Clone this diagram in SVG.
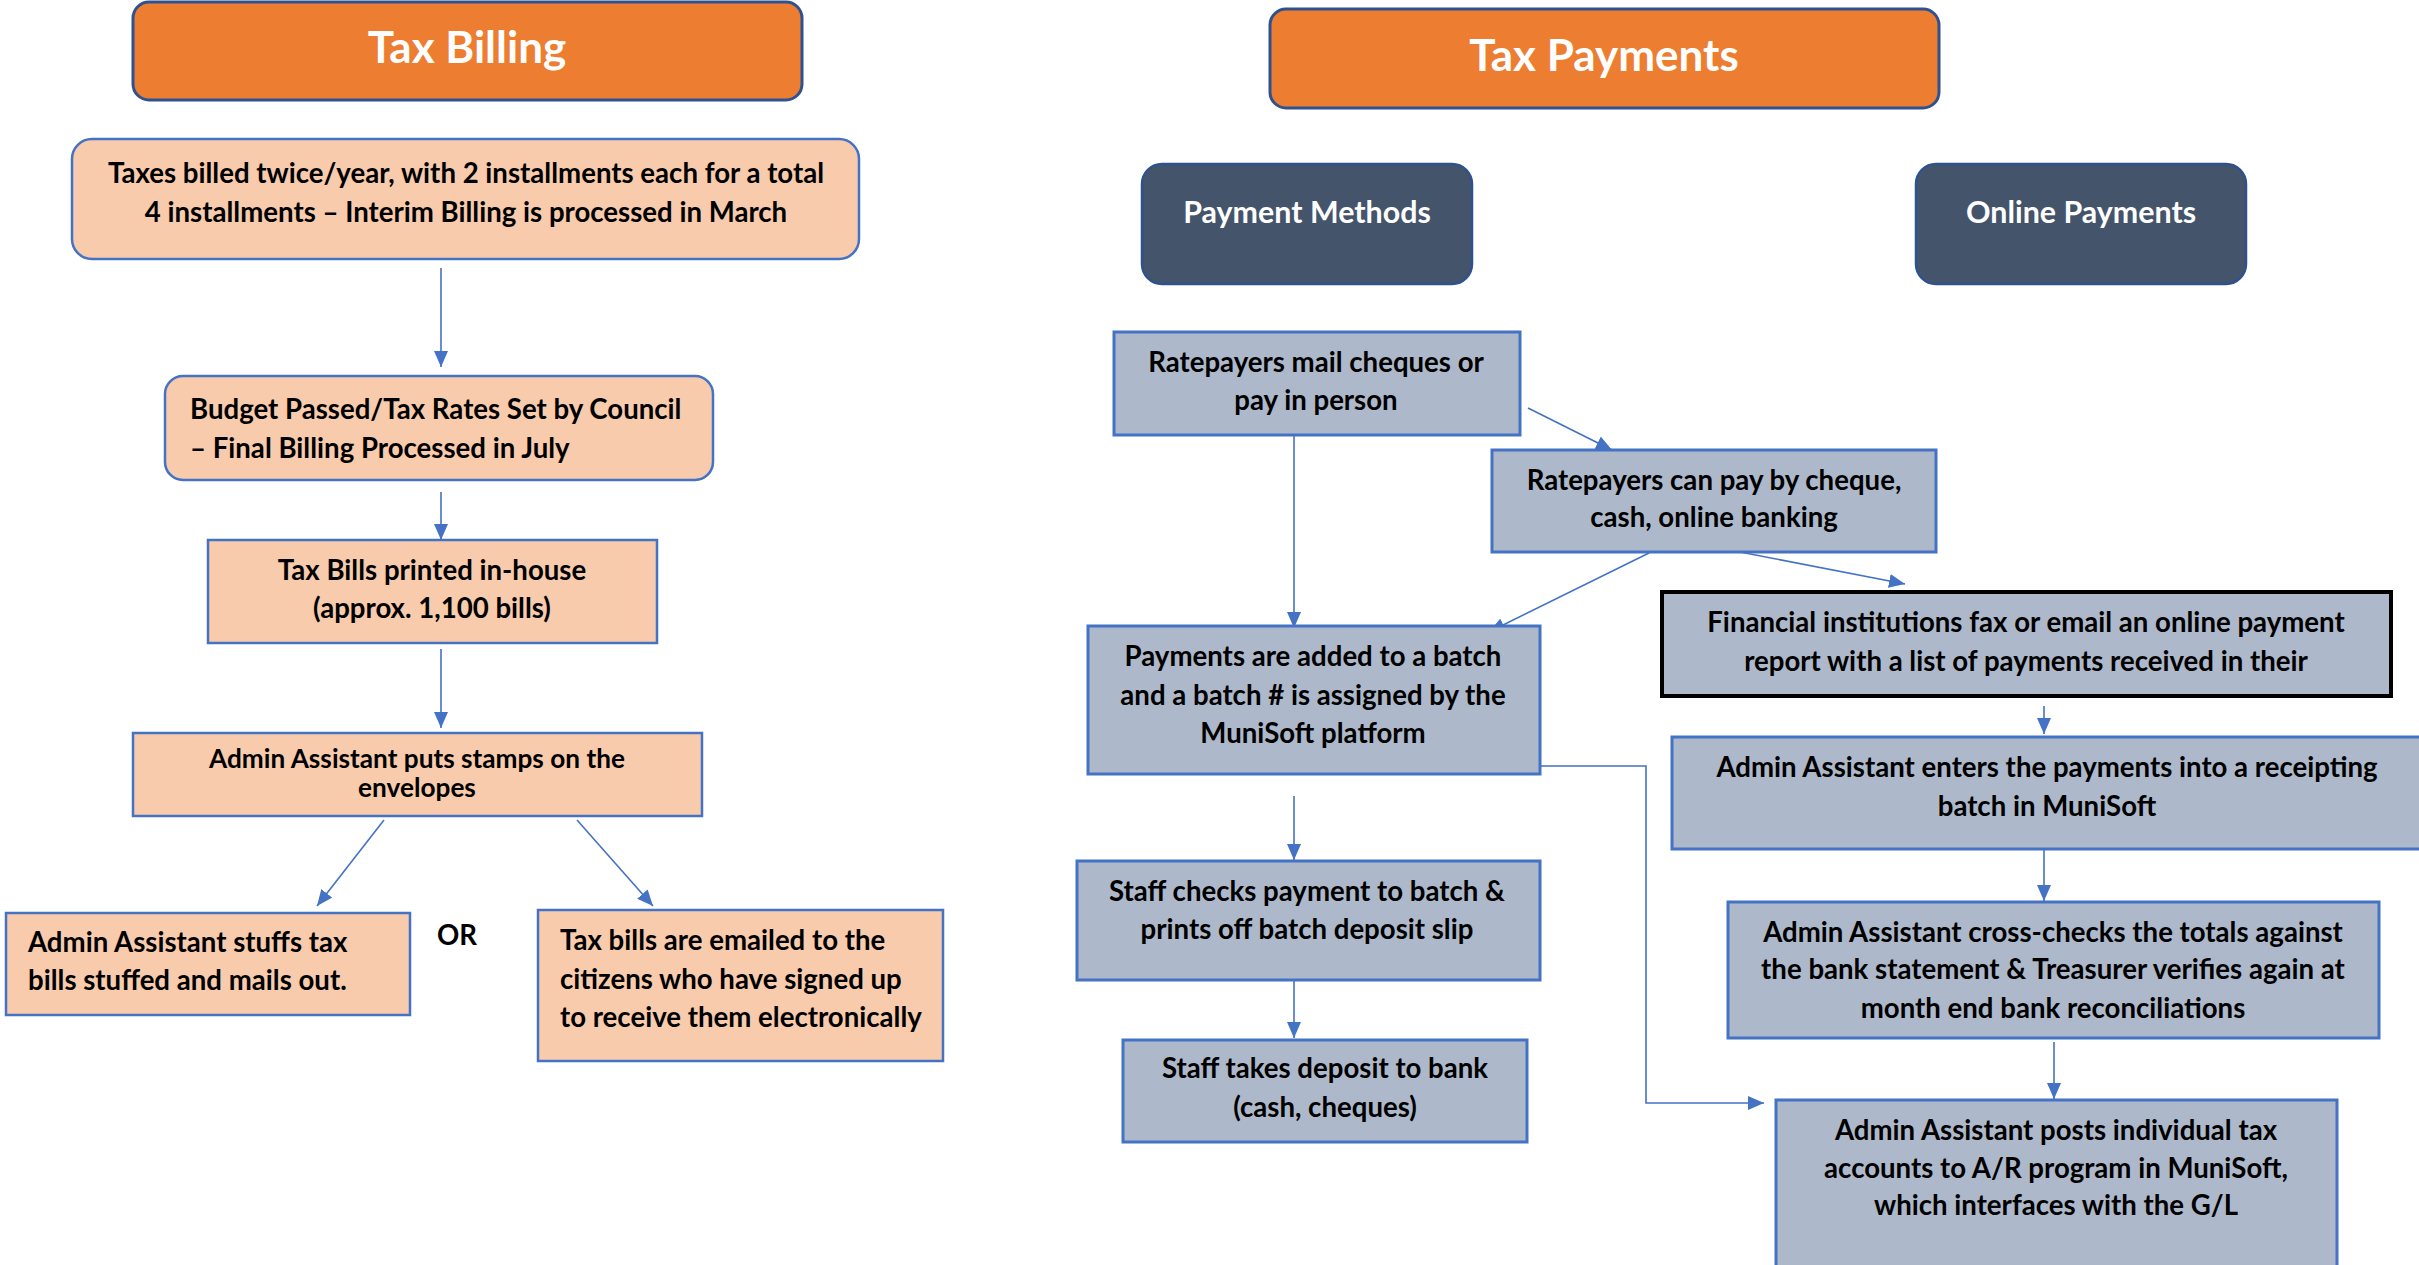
<svg xmlns="http://www.w3.org/2000/svg" width="2419" height="1265" viewBox="0 0 2419 1265">
<style>
.hdr{fill:#ED7D31;stroke:#2F528F;stroke-width:3}
.peach{fill:#F8CBAD;stroke:#4472C4;stroke-width:2.5}
.slate{fill:#ADB9CA;stroke:#4472C4;stroke-width:3}
.dark{fill:#44546A;stroke:#2F528F;stroke-width:2.5}
.blk{fill:#ADB9CA;stroke:#000;stroke-width:4}
text{font-family:Lato,"Liberation Sans",sans-serif;font-weight:bold;fill:#000;font-size:27.6px}
.c{text-anchor:middle}
.ht{fill:#fff;font-size:44px}
.st{fill:#fff;font-size:30.4px}
.sm{font-size:26.2px}
.con{fill:none;stroke:#4472C4;stroke-width:1.6}
</style>
<defs>
<marker id="ah" markerUnits="userSpaceOnUse" markerWidth="16" markerHeight="14" viewBox="0 0 16 14" refX="16" refY="7" orient="auto">
<path d="M0,0 L16,7 L0,14 z" fill="#4472C4"/>
</marker>
</defs>

<g id="connectors">
<line class="con" x1="441" y1="268" x2="441" y2="367" marker-end="url(#ah)"/>
<line class="con" x1="441" y1="492" x2="441" y2="540" marker-end="url(#ah)"/>
<line class="con" x1="441" y1="649" x2="441" y2="728" marker-end="url(#ah)"/>
<line class="con" x1="384" y1="820" x2="317" y2="906" marker-end="url(#ah)"/>
<line class="con" x1="577" y1="820" x2="653" y2="906" marker-end="url(#ah)"/>
<line class="con" x1="1294" y1="435" x2="1294" y2="628" marker-end="url(#ah)"/>
<line class="con" x1="1528" y1="408" x2="1612" y2="450" marker-end="url(#ah)"/>
<line class="con" x1="1649" y1="553" x2="1489" y2="632" marker-end="url(#ah)"/>
<line class="con" x1="1740" y1="552" x2="1905" y2="584" marker-end="url(#ah)"/>
<line class="con" x1="2044" y1="706" x2="2044" y2="734" marker-end="url(#ah)"/>
<polyline class="con" points="1541,766 1646,766 1646,1103 1764,1103" marker-end="url(#ah)"/>
<line class="con" x1="1294" y1="796" x2="1294" y2="860" marker-end="url(#ah)"/>
<line class="con" x1="1294" y1="980" x2="1294" y2="1038" marker-end="url(#ah)"/>
<line class="con" x1="2044" y1="850" x2="2044" y2="901" marker-end="url(#ah)"/>
<line class="con" x1="2054" y1="1042" x2="2054" y2="1099" marker-end="url(#ah)"/>
</g>

<g id="tax-billing">
<rect class="hdr" x="133" y="2" width="669" height="98" rx="16"/>
<text class="ht c" x="467" y="63">Tax Billing</text>
</g>

<g id="taxes-billed">
<rect class="peach" x="72" y="139" width="787" height="120" rx="20"/>
<text class="c" x="466" y="183">Taxes billed twice/year, with 2 installments each for a total</text>
<text class="c" x="466" y="222">4 installments – Interim Billing is processed in March</text>
</g>

<g id="budget-passed">
<rect class="peach" x="165" y="376" width="548" height="104" rx="18"/>
<text x="190" y="419">Budget Passed/Tax Rates Set by Council</text>
<text x="190" y="458">– Final Billing Processed in July</text>
</g>

<g id="tax-bills-printed">
<rect class="peach" x="208" y="540" width="449" height="103"/>
<text class="c" x="432" y="580">Tax Bills printed in-house</text>
<text class="c" x="432" y="618">(approx. 1,100 bills)</text>
</g>

<g id="stamps">
<rect class="peach" x="133" y="733" width="569" height="83"/>
<text class="c sm" x="417" y="768">Admin Assistant puts stamps on the</text>
<text class="c sm" x="417" y="797">envelopes</text>
</g>

<g id="stuffs">
<rect class="peach" x="6" y="913" width="404" height="102"/>
<text x="28" y="952">Admin Assistant stuffs tax</text>
<text x="28" y="990">bills stuffed and mails out.</text>
</g>

<g id="or-label">
<text class="c" x="457" y="945">OR</text>
</g>

<g id="emailed">
<rect class="peach" x="538" y="910" width="405" height="151"/>
<text x="560" y="950">Tax bills are emailed to the</text>
<text x="560" y="989">citizens who have signed up</text>
<text x="560" y="1027">to receive them electronically</text>
</g>

<g id="tax-payments">
<rect class="hdr" x="1270" y="9" width="669" height="99" rx="16"/>
<text class="ht c" x="1604" y="71">Tax Payments</text>
</g>

<g id="payment-methods">
<rect class="dark" x="1142" y="164" width="330" height="120" rx="20"/>
<text class="st c" x="1307" y="223">Payment Methods</text>
</g>

<g id="online-payments">
<rect class="dark" x="1916" y="164" width="330" height="120" rx="20"/>
<text class="st c" x="2081" y="223">Online Payments</text>
</g>

<g id="ratepayers-mail">
<rect class="slate" x="1114" y="332" width="406" height="103"/>
<text class="c" x="1316" y="372">Ratepayers mail cheques or</text>
<text class="c" x="1316" y="410">pay in person</text>
</g>

<g id="ratepayers-can">
<rect class="slate" x="1492" y="450" width="444" height="102"/>
<text class="c" x="1714" y="490">Ratepayers can pay by cheque,</text>
<text class="c" x="1714" y="527">cash, online banking</text>
</g>

<g id="payments-added">
<rect class="slate" x="1088" y="626" width="452" height="148"/>
<text class="c" x="1313" y="666">Payments are added to a batch</text>
<text class="c" x="1313" y="705">and a batch # is assigned by the</text>
<text class="c" x="1313" y="743">MuniSoft platform</text>
</g>

<g id="financial-institutions">
<rect class="blk" x="1662" y="592" width="729" height="104"/>
<text class="c" x="2026" y="632">Financial institutions fax or email an online payment</text>
<text class="c" x="2026" y="671">report with a list of payments received in their</text>
</g>

<g id="admin-enters">
<rect class="slate" x="1672" y="737" width="760" height="112"/>
<text class="c" x="2047" y="777">Admin Assistant enters the payments into a receipting</text>
<text class="c" x="2047" y="816">batch in MuniSoft</text>
</g>

<g id="admin-crosschecks">
<rect class="slate" x="1728" y="902" width="651" height="136"/>
<text class="c" x="2053" y="942">Admin Assistant cross-checks the totals against</text>
<text class="c" x="2053" y="979">the bank statement &amp; Treasurer verifies again at</text>
<text class="c" x="2053" y="1018">month end bank reconciliations</text>
</g>

<g id="admin-posts">
<rect class="slate" x="1776" y="1100" width="561" height="170"/>
<text class="c" x="2056" y="1140">Admin Assistant posts individual tax</text>
<text class="c" x="2056" y="1178">accounts to A/R program in MuniSoft,</text>
<text class="c" x="2056" y="1215">which interfaces with the G/L</text>
</g>

<g id="staff-checks">
<rect class="slate" x="1077" y="861" width="463" height="119"/>
<text class="c" x="1307" y="901">Staff checks payment to batch &amp;</text>
<text class="c" x="1307" y="939">prints off batch deposit slip</text>
</g>

<g id="staff-takes">
<rect class="slate" x="1123" y="1040" width="404" height="102"/>
<text class="c" x="1325" y="1078">Staff takes deposit to bank</text>
<text class="c" x="1325" y="1117">(cash, cheques)</text>
</g>
</svg>
